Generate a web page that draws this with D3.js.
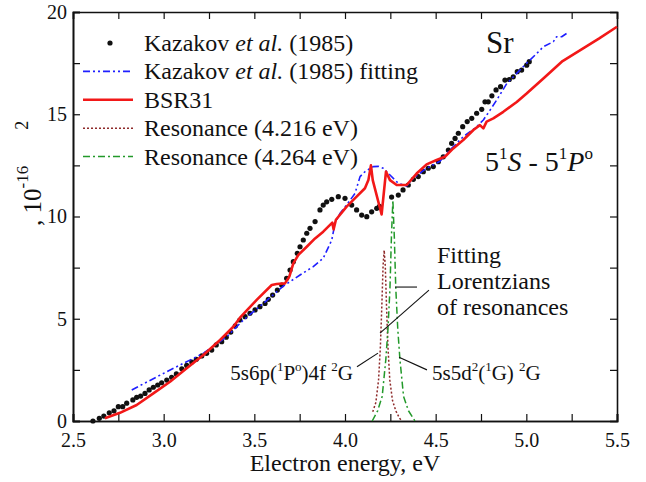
<!DOCTYPE html>
<html>
<head>
<meta charset="utf-8">
<script src="https://cdn.jsdelivr.net/npm/d3@7"></script>
<style>
  body { margin: 0; background: #fff; }
</style>
</head>
<body>
<svg id="chart" width="646" height="482"></svg>
<script>
// Kazakov et al. (1985) measured points [energy eV, cross section]
const kazakovPoints = [
  [2.61,0.0],[2.645,0.13],[2.67,0.24],[2.70,0.40],[2.726,0.50],[2.75,0.70],[2.774,0.70],
  [2.796,0.87],[2.83,1.03],[2.851,1.16],[2.873,1.22],[2.897,1.35],[2.92,1.52],[2.943,1.65],
  [2.967,1.76],[2.989,1.87],[3.017,2.0],[3.044,2.14],[3.07,2.3],[3.10,2.55],[3.127,2.72],
  [3.155,2.88],[3.18,3.02],[3.21,3.18],[3.237,3.31],[3.265,3.47],[3.29,3.72],[3.32,3.88],
  [3.345,4.10],[3.37,4.35],[3.395,4.65],[3.42,4.94],[3.449,5.10],[3.476,5.27],[3.504,5.43],
  [3.531,5.59],[3.559,5.75],[3.577,5.95],[3.601,6.16],[3.627,6.40],[3.651,6.65],[3.678,6.98],
  [3.697,7.38],[3.715,7.79],[3.737,8.20],[3.752,8.52],[3.77,8.85],[3.789,9.18],[3.807,9.42],
  [3.835,9.75],[3.862,10.32],[3.88,10.56],[3.899,10.72],[3.927,10.84],[3.963,10.97],[4.0,10.89],
  [4.037,10.56],[4.064,10.32],[4.092,10.07],[4.12,9.99],[4.147,10.23],[4.175,10.4],[4.19,10.5],
  [4.257,10.95],[4.294,11.05],[4.32,11.3],[4.349,11.54],[4.377,11.82],[4.404,11.95],[4.432,12.19],
  [4.459,12.36],[4.487,12.44],[4.515,12.68],[4.542,12.92],[4.57,13.25],[4.588,13.58],[4.607,13.82],
  [4.625,14.07],[4.649,14.39],[4.674,14.64],[4.699,14.80],[4.726,15.05],[4.754,15.24],[4.772,15.61],
  [4.79,15.61],[4.81,15.9],[4.833,16.19],[4.858,16.35],[4.882,16.67],[4.906,16.70],[4.928,16.83],
  [4.95,17.08],[4.974,17.16],[5.002,17.40],[5.016,17.57]
];

// Kazakov et al. (1985) fitting
const kazakovFit = [
  [2.824,1.52],[3.017,2.41],[3.219,3.31],[3.348,4.12],[3.44,4.94],[3.55,5.75],[3.66,6.6],
  [3.752,7.14],[3.825,7.55],[3.88,7.96],[3.927,8.85],[3.945,9.67],[3.973,10.16],[4.009,10.56],
  [4.055,11.13],[4.083,11.95],[4.11,12.19],[4.138,12.35],[4.156,12.44],[4.185,12.45],[4.211,12.36],
  [4.248,12.03],[4.294,11.62],[4.34,11.49],[4.377,11.87],[4.45,12.36],[4.524,12.7],[4.561,13.09],
  [4.652,13.9],[4.726,14.39],[4.763,14.72],[4.8,15.2],[4.837,15.7],[4.892,16.5],[4.947,17.0],
  [5.002,17.5],[5.057,17.97],[5.094,18.3],[5.149,18.55],[5.167,18.79],[5.195,18.79],[5.23,19.0]
];

// BSR31 calculation
const bsr31 = [
  [2.676,0.13],[2.759,0.4],[2.851,0.78],[2.943,1.35],[3.035,1.92],[3.127,2.58],[3.219,3.23],
  [3.311,3.96],[3.384,4.61],[3.421,5.05],[3.513,5.92],[3.596,6.65],[3.623,6.7],[3.669,6.73],
  [3.693,7.06],[3.715,7.71],[3.743,8.12],[3.789,8.52],[3.835,8.93],[3.88,9.26],[3.93,9.7],
  [3.937,9.37],[3.95,9.84],[4.009,10.48],[4.064,10.97],[4.11,11.38],[4.129,11.78],[4.143,12.5],
  [4.153,11.78],[4.202,10.1],[4.226,12.2],[4.248,11.78],[4.285,11.54],[4.34,11.54],[4.395,12.1],
  [4.45,12.55],[4.505,12.76],[4.551,12.92],[4.597,13.33],[4.652,13.74],[4.708,14.23],[4.744,14.47],
  [4.763,14.31],[4.781,14.64],[4.818,14.8],[4.873,15.12],[4.947,15.6],[5.0,16.0],[5.1,16.8],
  [5.2,17.6],[5.3,18.15],[5.4,18.7],[5.5,19.28]
];

// Resonance (4.216 eV) Lorentzian
const res4216 = [
  [4.153,0.45],[4.17,0.9],[4.185,2.0],[4.195,3.6],[4.203,5.6],[4.21,7.6],[4.216,8.35],
  [4.222,7.6],[4.229,5.6],[4.237,3.6],[4.247,2.0],[4.262,1.0],[4.28,0.5],[4.30,0.15],[4.313,0.0]
];

// Resonance (4.264 eV) Lorentzian
const res4264 = [
  [4.15,0.0],[4.18,0.5],[4.205,1.2],[4.225,3.0],[4.237,4.5],[4.248,6.5],[4.256,9.0],[4.264,10.8],
  [4.272,9.0],[4.28,6.5],[4.291,4.5],[4.303,3.0],[4.323,1.2],[4.35,0.5],[4.386,0.0]
];

const xTicks = [2.5, 3.0, 3.5, 4.0, 4.5, 5.0, 5.5];
const xMinor = [2.75, 3.25, 3.75, 4.25, 4.75, 5.25];
const yTicks = [0, 5, 10, 15, 20];
const yMinor = [2.5, 7.5, 12.5, 17.5];

const legendItems = [
  { key: "dots", label: ["Kazakov ", "et al.", " (1985)"] },
  { key: "fit", label: ["Kazakov ", "et al.", " (1985) fitting"] },
  { key: "bsr", label: ["BSR31"] },
  { key: "r1", label: ["Resonance (4.216 eV)"] },
  { key: "r2", label: ["Resonance (4.264 eV)"] }
];

const styles = {
  fit: { stroke: "#1f1fff", width: 1.6, dash: "7,3,2,3,2,3" },
  bsr: { stroke: "#f21818", width: 2.6, dash: null },
  r1: { stroke: "#8e2a2a", width: 1.5, dash: "2,2" },
  r2: { stroke: "#22992a", width: 1.5, dash: "7,3,2,3" }
};

const serif = "\"Liberation Serif\", \"DejaVu Serif\", \"Times New Roman\", serif";

const svg = d3.select("#chart");
const margin = { left: 73, right: 29, top: 12, bottom: 61 };
const width = 646, height = 482;

const x = d3.scaleLinear().domain([2.5, 5.5]).range([margin.left, width - margin.right]);
const y = d3.scaleLinear().domain([0, 20]).range([height - margin.bottom, margin.top]);

const line = d3.line().x(d => x(d[0])).y(d => y(d[1]));

// axes (ticks inward, mirrored on top and right)
const tickLen = 7;
const axBottom = svg.append("g").attr("transform", `translate(0,${y(0)})`)
  .call(d3.axisBottom(x).tickValues(xTicks).tickFormat(d3.format(".1f")).tickSize(-tickLen).tickPadding(12));
axBottom.append("g").call(d3.axisBottom(x).tickValues(xMinor).tickFormat("").tickSize(-tickLen));

svg.append("g").attr("transform", `translate(0,${y(20)})`)
  .call(d3.axisTop(x).tickValues(xTicks.concat(xMinor)).tickFormat("").tickSize(-tickLen));

const axLeft = svg.append("g").attr("transform", `translate(${x(2.5)},0)`)
  .call(d3.axisLeft(y).tickValues(yTicks).tickSize(-tickLen).tickPadding(6));
axLeft.append("g").call(d3.axisLeft(y).tickValues(yMinor).tickFormat("").tickSize(-tickLen));

svg.append("g").attr("transform", `translate(${x(5.5)},0)`)
  .call(d3.axisRight(y).tickValues(yTicks.concat(yMinor)).tickFormat("").tickSize(-tickLen));

svg.selectAll(".domain").attr("stroke", "#111").attr("stroke-width", 1.6);
svg.selectAll(".tick line").attr("stroke", "#111").attr("stroke-width", 1.2);
svg.selectAll(".tick text").attr("font-size", 20);

// series
svg.append("g").selectAll("circle")
  .data(kazakovPoints)
  .join("circle")
  .attr("cx", d => x(d[0]))
  .attr("cy", d => y(d[1]))
  .attr("r", 2.6)
  .attr("fill", "#111");

function drawSeries(data, s) {
  svg.append("path")
    .datum(data)
    .attr("d", line)
    .attr("fill", "none")
    .attr("stroke", s.stroke)
    .attr("stroke-width", s.width)
    .attr("stroke-dasharray", s.dash)
    .attr("stroke-linejoin", "round");
}
drawSeries(kazakovFit, styles.fit);
drawSeries(bsr31, styles.bsr);
drawSeries(res4216, styles.r1);
drawSeries(res4264, styles.r2);

// legend
const legend = svg.append("g");
legendItems.forEach((item, i) => {
  const cy = 43 + i * 28.4;
  if (item.key === "dots") {
    legend.append("circle").attr("cx", 110).attr("cy", cy).attr("r", 2.6).attr("fill", "#111");
  } else {
    const s = styles[item.key];
    legend.append("line")
      .attr("x1", 83).attr("x2", 133).attr("y1", cy).attr("y2", cy)
      .attr("stroke", s.stroke).attr("stroke-width", s.width)
      .attr("stroke-dasharray", s.dash);
  }
  const t = legend.append("text").attr("x", 144).attr("y", cy + 8).attr("font-size", 24);
  item.label.forEach(part => {
    t.append("tspan").style("font-style", part === "et al." ? "italic" : null).text(part);
  });
});

// Sr label and transition
svg.append("text").attr("x", 486).attr("y", 53).attr("font-size", 31).text("Sr");

const tr = svg.append("text").attr("x", 485).attr("y", 171).attr("font-size", 28);
tr.append("tspan").text("5");
tr.append("tspan").attr("font-size", 17).attr("dy", -12).text("1");
tr.append("tspan").style("font-style", "italic").attr("dy", 12).text("S");
tr.append("tspan").text(" - 5");
tr.append("tspan").attr("font-size", 17).attr("dy", -12).text("1");
tr.append("tspan").style("font-style", "italic").attr("dy", 12).text("P");
tr.append("tspan").attr("font-size", 17).attr("dy", -12).text("o");

// annotations
const notes = ["Fitting", "Lorentzians", "of resonances"];
notes.forEach((n, i) => {
  svg.append("text").attr("x", 437).attr("y", 263 + i * 26).attr("font-size", 24).text(n);
});

const leaders = [
  [[4.276, 6.55], [4.397, 6.55]],
  [[4.463, 6.4], [4.193, 4.3]],
  [[4.066, 2.65], [4.182, 3.32]],
  [[4.298, 3.12], [4.452, 2.5]]
];
svg.append("g").selectAll("path")
  .data(leaders)
  .join("path")
  .attr("d", d => line(d))
  .attr("stroke", "#111")
  .attr("stroke-width", 1.1)
  .attr("fill", "none");

const lab1 = svg.append("text").attr("x", 353).attr("y", 380).attr("font-size", 21).attr("text-anchor", "end");
lab1.append("tspan").text("5s6p(");
lab1.append("tspan").attr("font-size", 13).attr("dy", -9).text("1");
lab1.append("tspan").attr("dy", 9).text("P");
lab1.append("tspan").attr("font-size", 13).attr("dy", -9).text("o");
lab1.append("tspan").attr("dy", 9).text(")4f ");
lab1.append("tspan").attr("font-size", 13).attr("dy", -9).text("2");
lab1.append("tspan").attr("dy", 9).text("G");

const lab2 = svg.append("text").attr("x", 432).attr("y", 380).attr("font-size", 21);
lab2.append("tspan").text("5s5d");
lab2.append("tspan").attr("font-size", 13).attr("dy", -9).text("2");
lab2.append("tspan").attr("dy", 9).text("(");
lab2.append("tspan").attr("font-size", 13).attr("dy", -9).text("1");
lab2.append("tspan").attr("dy", 9).text("G) ");
lab2.append("tspan").attr("font-size", 13).attr("dy", -9).text("2");
lab2.append("tspan").attr("dy", 9).text("G");

// axis titles
svg.append("text")
  .attr("x", (x(2.5) + x(5.5)) / 2)
  .attr("y", 471)
  .attr("text-anchor", "middle")
  .attr("font-size", 24)
  .text("Electron energy, eV");

const yl = svg.append("text")
  .attr("transform", "translate(41,226) rotate(-90)")
  .attr("font-size", 25);
yl.append("tspan").text(", 10");
yl.append("tspan").attr("font-size", 17).attr("dy", -13).text("-16");
yl.append("tspan").attr("font-size", 18).attr("dx", 36).text("2");

svg.selectAll("text").style("font-family", serif).style("fill", "#111");
</script>
</body>
</html>
